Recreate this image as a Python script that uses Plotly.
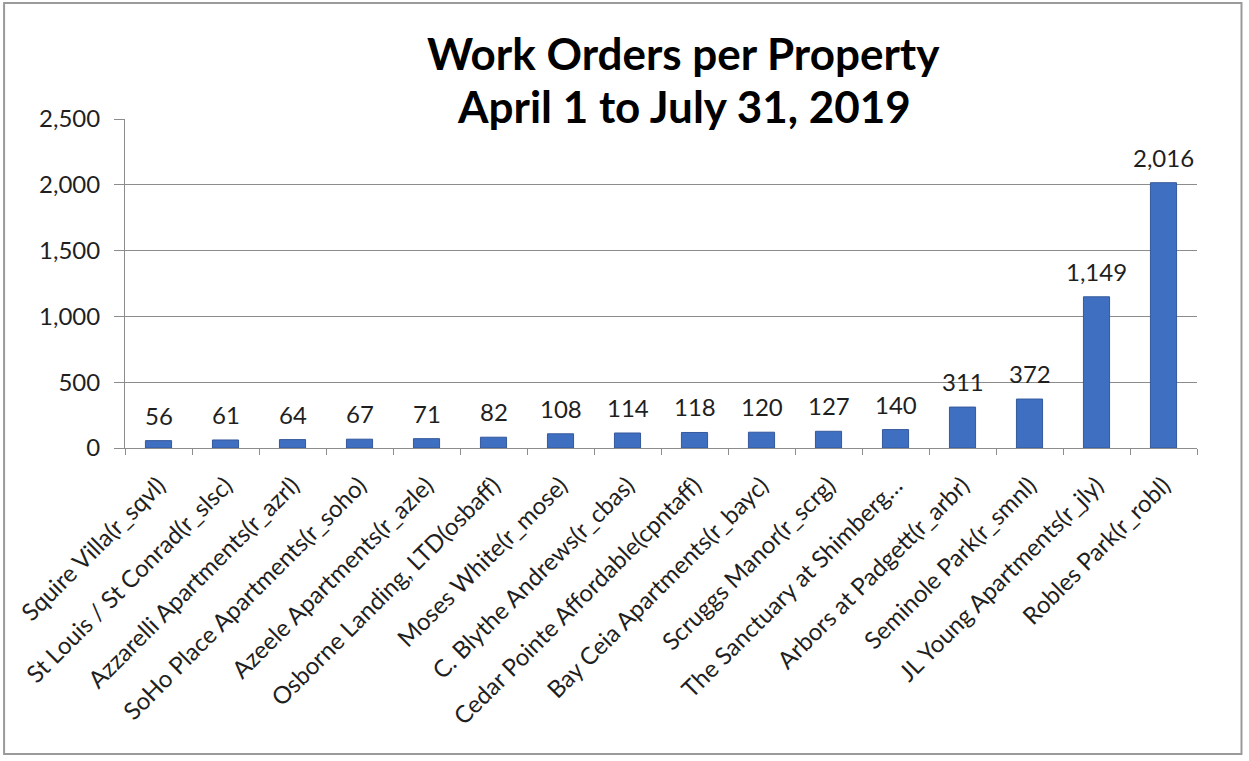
import plotly.graph_objects as go

# Work order counts per property, April 1 - July 31, 2019
properties = [
    "Squire Villa(r_sqvl)",
    "St Louis / St Conrad(r_slsc)",
    "Azzarelli Apartments(r_azrl)",
    "SoHo Place Apartments(r_soho)",
    "Azeele Apartments(r_azle)",
    "Osborne Landing, LTD(osbaff)",
    "Moses White(r_mose)",
    "C. Blythe Andrews(r_cbas)",
    "Cedar Pointe Affordable(cpntaff)",
    "Bay Ceia Apartments(r_bayc)",
    "Scruggs Manor(r_scrg)",
    "The Sanctuary at Shimberg…",
    "Arbors at Padgett(r_arbr)",
    "Seminole Park(r_smnl)",
    "JL Young Apartments(r_jly)",
    "Robles Park(r_robl)",
]
work_orders = [56, 61, 64, 67, 71, 82, 108, 114, 118, 120, 127, 140, 311, 372, 1149, 2016]
y_ticks = [0, 500, 1000, 1500, 2000, 2500]

title_lines = ["Work Orders per Property", "April 1 to July 31, 2019"]

FONT = "Lato, 'Open Sans', sans-serif"
TEXT = "#1f1f1f"
GRID = "#8c8c8c"

fig = go.Figure()
fig.add_trace(
    go.Bar(
        x=properties,
        y=work_orders,
        marker=dict(color="#3f6fc1", line=dict(color="#35599c", width=1)),
        hoverinfo="x+y",
    )
)

# value labels above each bar
for name, v in zip(properties, work_orders):
    fig.add_annotation(
        x=name, y=v, xref="x", yref="y",
        text=f"{v:,}", showarrow=False,
        yanchor="bottom", yshift=9,
        font=dict(family=FONT, size=24, color=TEXT),
    )

# two-line chart title
fig.add_annotation(
    x=0.5212, y=1.2006, xref="paper", yref="paper",
    text=f"<b>{title_lines[0]}</b>", showarrow=False,
    xanchor="center", yanchor="middle",
    font=dict(family=FONT, size=44, color="#000000"),
)
fig.add_annotation(
    x=0.5212, y=1.0395, xref="paper", yref="paper",
    text=f"<b>{title_lines[1]}</b>", showarrow=False,
    xanchor="center", yanchor="middle",
    font=dict(family=FONT, size=44, color="#000000"),
)

# outer chart frame
fig.add_shape(
    type="rect", xref="paper", yref="paper",
    x0=-0.1128, x1=1.0415, y0=-0.930, y1=1.3526,
    line=dict(color="#9a9a9a", width=2), layer="below",
)

fig.update_layout(
    width=1249,
    height=761,
    margin=dict(l=125, r=51.5, t=119, b=313),
    paper_bgcolor="white",
    plot_bgcolor="white",
    showlegend=False,
    bargap=0.61,
    font=dict(family=FONT, color=TEXT),
)
fig.update_xaxes(
    type="category",
    tickangle=-45,
    tickfont=dict(family=FONT, size=24, color=TEXT),
    ticklabelstandoff=13,
    showline=True, linecolor=GRID, linewidth=1,
    ticks="outside", ticklen=6, tickcolor=GRID, tickson="boundaries",
    showgrid=False,
)
fig.update_yaxes(
    range=[0, 2500],
    tickvals=y_ticks,
    tickformat=",d",
    tickfont=dict(family=FONT, size=24, color=TEXT),
    ticklabelstandoff=9,
    showline=True, linecolor=GRID, linewidth=1,
    ticks="outside", ticklen=10, tickcolor=GRID,
    showgrid=True, gridcolor=GRID, gridwidth=1,
    zeroline=False,
)

fig.write_html("out.html")
